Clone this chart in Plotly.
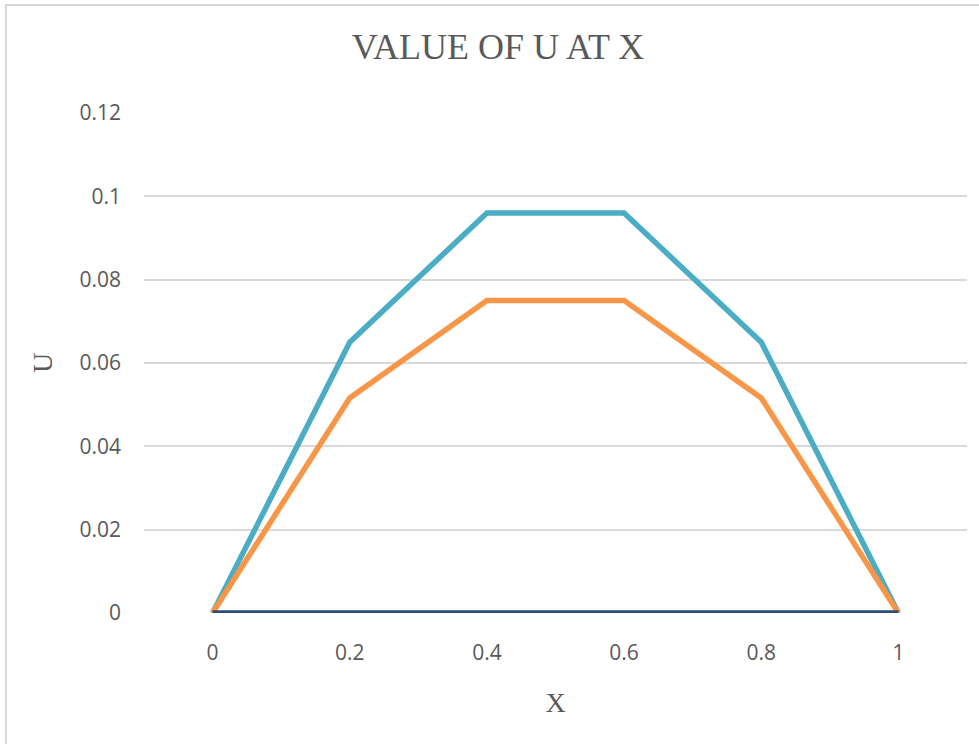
import plotly.graph_objects as go

x_values = [0, 0.2, 0.4, 0.6, 0.8, 1]
x_tick_labels = ["0", "0.2", "0.4", "0.6", "0.8", "1"]
u_series_a = [0, 0.065, 0.096, 0.096, 0.065, 0]
u_series_b = [0, 0.0516, 0.075, 0.075, 0.0516, 0]
u_series_c = [0, 0, 0, 0, 0, 0]
y_tick_vals = [0, 0.02, 0.04, 0.06, 0.08, 0.1, 0.12]
y_tick_labels = ["0", "0.02", "0.04", "0.06", "0.08", "0.1", "0.12"]

series = [
    ("Series A", u_series_a, "#4BACC6"),
    ("Series B", u_series_b, "#F79646"),
    ("Series C", u_series_c, "#2C4A7C"),
]

fig = go.Figure()
for name, vals, color in series:
    fig.add_trace(go.Scatter(
        x=x_values, y=vals, mode="lines", name=name,
        line=dict(color=color, width=5.5), cliponaxis=False,
    ))

W, H = 979, 744
L, R, T, B = 144, 12, 113, 131

fig.update_layout(
    width=W, height=H,
    margin=dict(l=L, r=R, t=T, b=B),
    paper_bgcolor="white", plot_bgcolor="white",
    showlegend=False,
    title=dict(
        text="VALUE OF U AT X",
        font=dict(family="Liberation Serif", size=36, color="#595959"),
        x=498 / W, xref="container", xanchor="center",
        y=1 - 46 / H, yref="container", yanchor="middle",
    ),
    xaxis=dict(
        range=[-0.1, 1.1], tickvals=x_values, ticktext=x_tick_labels,
        showgrid=False, zeroline=False, showline=False, ticks="",
        ticklabelstandoff=25,
        tickfont=dict(family="Open Sans", size=21, color="#595959"),
        title=dict(text="X", font=dict(family="Liberation Serif", size=28, color="#595959"), standoff=27),
    ),
    yaxis=dict(
        range=[0, 0.12], tickvals=y_tick_vals, ticktext=y_tick_labels,
        showgrid=True, gridcolor="#D9D9D9", gridwidth=1.5,
        zeroline=False, showline=False, ticks="",
        ticklabelstandoff=22,
        tickfont=dict(family="Open Sans", size=21, color="#595959"),
        title=dict(text="U", font=dict(family="Liberation Serif", size=28, color="#595959"), standoff=18),
    ),
)

pw = W - L - R
ph = H - T - B
fig.add_shape(
    type="rect", xref="paper", yref="paper",
    x0=(6 - L) / pw, x1=(W + 20 - L) / pw,
    y0=-(B + 20) / ph, y1=1 + (T - 5) / ph,
    line=dict(color="#D9D9D9", width=2), fillcolor="rgba(0,0,0,0)", layer="below",
)

fig.write_html(
    "out.html",
    config={"displayModeBar": False},
    post_script="document.body.style.margin='0';document.body.style.overflow='hidden';",
)
